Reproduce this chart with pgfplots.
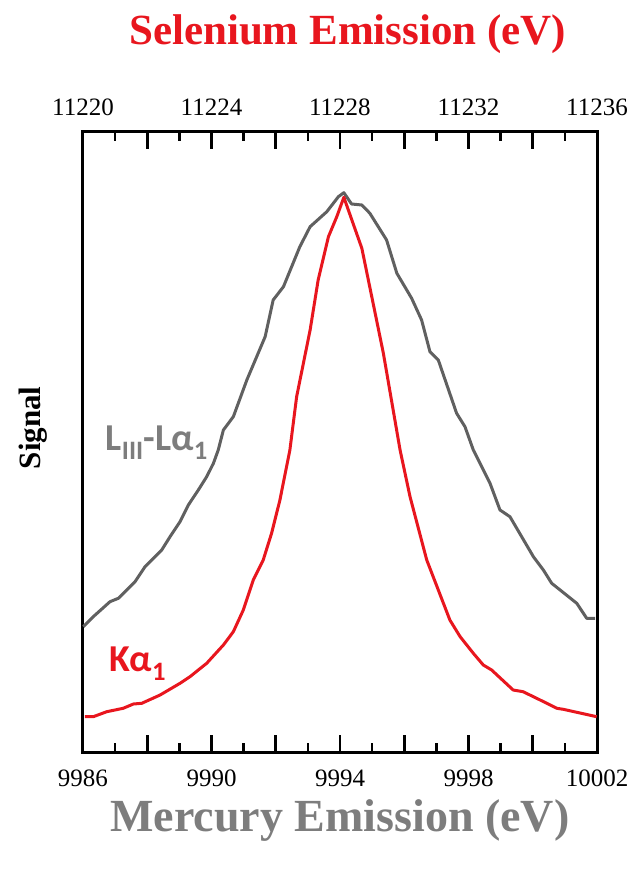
\documentclass[border=0pt]{standalone}
\usepackage{pgfplots}
\pgfplotsset{compat=1.18}
\usepackage{fontspec}
\setmainfont{Liberation Serif}
\newfontfamily\calib{Carlito}
\definecolor{myred}{RGB}{232,22,30}
\definecolor{mygray}{RGB}{96,96,96}
\definecolor{labgray}{RGB}{125,125,125}
\begin{document}
\begin{tikzpicture}
\path[use as bounding box] (-83pt,-121pt) rectangle (561pt,752pt);
\begin{axis}[at={(0pt,0pt)}, anchor=south west, scale only axis,
  width=514pt, height=620pt,
  xmin=9986, xmax=10002, ymin=0, ymax=620,
  xtick={9986,9988,...,10002},
  xticklabels={9986,,9990,,9994,,9998,,10002},
  minor x tick num=1,
  scaled x ticks=false,
  ytick=\empty, xtick pos=bottom,
  tick align=inside, major tick length=17pt, minor tick length=9pt,
  every tick/.style={line width=2.5pt, black},
  axis line style={line width=3pt},
  /pgf/number format/1000 sep={}, /pgf/number format/assume math mode=true,
  xticklabel style={font=\fontsize{25}{25}\selectfont},
  xticklabel shift=14pt,
  clip=false]
\addplot[mygray, line width=3pt, line join=round] coordinates {
(9986.01,125.3) (9986.32,135.3) (9986.84,150.3) (9987.10,153.7) (9987.62,170.3)
(9987.93,185.3) (9988.45,202) (9988.71,215.3) (9989.02,230.3) (9989.28,247)
(9989.59,262) (9989.85,275.3) (9990.06,288.7) (9990.21,302) (9990.37,322)
(9990.68,335.3) (9991.10,372) (9991.67,415.3) (9991.92,452) (9992.24,465.3)
(9992.75,505.3) (9993.07,525.3) (9993.59,540.3) (9993.95,555.3) (9994.12,559.3)
(9994.36,548) (9994.68,547) (9994.93,538.7) (9995.45,512) (9995.77,478.7)
(9996.23,453.7) (9996.54,432) (9996.80,400.3) (9997.06,392) (9997.63,338.7)
(9997.89,325.3) (9998.15,302) (9998.67,268.7) (9998.98,242) (9999.29,235.3)
(10000.02,195.3) (10000.33,182) (10000.59,168.7) (10001.37,148.7) (10001.68,133.7)
(10001.94,133.7)};
\addplot[myred, line width=3pt, line join=round] coordinates {
(9986.06,35.3) (9986.32,35.3) (9986.74,40.3) (9987.25,43.7) (9987.57,48)
(9987.83,48.7) (9988.40,57) (9989.02,68.7) (9989.33,75.3) (9989.85,88.7)
(9990.37,107) (9990.68,120.3) (9990.99,142) (9991.30,172) (9991.61,192)
(9991.87,218.7) (9992.13,252) (9992.44,302) (9992.65,355.3) (9993.07,422)
(9993.32,472) (9993.64,515.3) (9993.90,535.3) (9994.12,554.7) (9994.68,503.7)
(9995.35,398.7) (9995.87,302) (9996.18,255.3) (9996.70,192) (9997.42,132)
(9997.74,115.3) (9998.15,98.7) (9998.46,87) (9998.72,82) (9999.39,62)
(9999.70,60.3) (10000.23,52) (10000.75,43.7) (10000.95,42.7) (10001.99,35.3)};
\node[font=\calib\bfseries\fontsize{38}{38}\selectfont, text=labgray] at (axis cs:9988.3,309) {L\textsubscript{III}-Lα\textsubscript{1}};
\node[font=\calib\bfseries\fontsize{38}{38}\selectfont, text=myred] at (axis cs:9987.70,88) {Kα\textsubscript{1}};
\node[font=\bfseries\fontsize{46}{46}\selectfont, text=labgray] at (axis description cs:0.5,-0.1097) {Mercury Emission (eV)};
\node[font=\bfseries\fontsize{31}{31}\selectfont, black, rotate=90] at (axis description cs:-0.097,0.523) {Signal};
\node[font=\bfseries\fontsize{43}{43}\selectfont, text=myred] at (axis description cs:0.515,1.158) {Selenium Emission (eV)};
\end{axis}
\begin{axis}[at={(0pt,0pt)}, anchor=south west, scale only axis,
  width=514pt, height=620pt,
  xmin=11220, xmax=11236, ymin=0, ymax=620,
  axis x line*=top, axis y line=none,
  xtick={11220,11222,...,11236},
  xticklabels={11220,,11224,,11228,,11232,,11236},
  minor x tick num=1,
  scaled x ticks=false,
  tick align=inside, major tick length=17pt, minor tick length=9pt,
  every tick/.style={line width=2.5pt, black},
  axis line style={line width=3pt},
  /pgf/number format/1000 sep={}, /pgf/number format/assume math mode=true,
  xticklabel style={font=\fontsize{25}{25}\selectfont},
  xticklabel shift=13pt]
\end{axis}
\foreach \i/\l in {1/9pt,2/17pt,3/9pt,4/17pt,5/9pt,6/17pt,7/9pt,8/17pt,9/9pt,10/17pt,11/9pt,12/17pt,13/9pt,14/17pt,15/9pt}{
  \fill[black] ({\i*32.125pt-1.3pt},0pt) rectangle ++(2.6pt,\l);
  \fill[black] ({\i*32.125pt-1.3pt},620pt) rectangle ++(2.6pt,-\l);
}
\end{tikzpicture}
\end{document}
